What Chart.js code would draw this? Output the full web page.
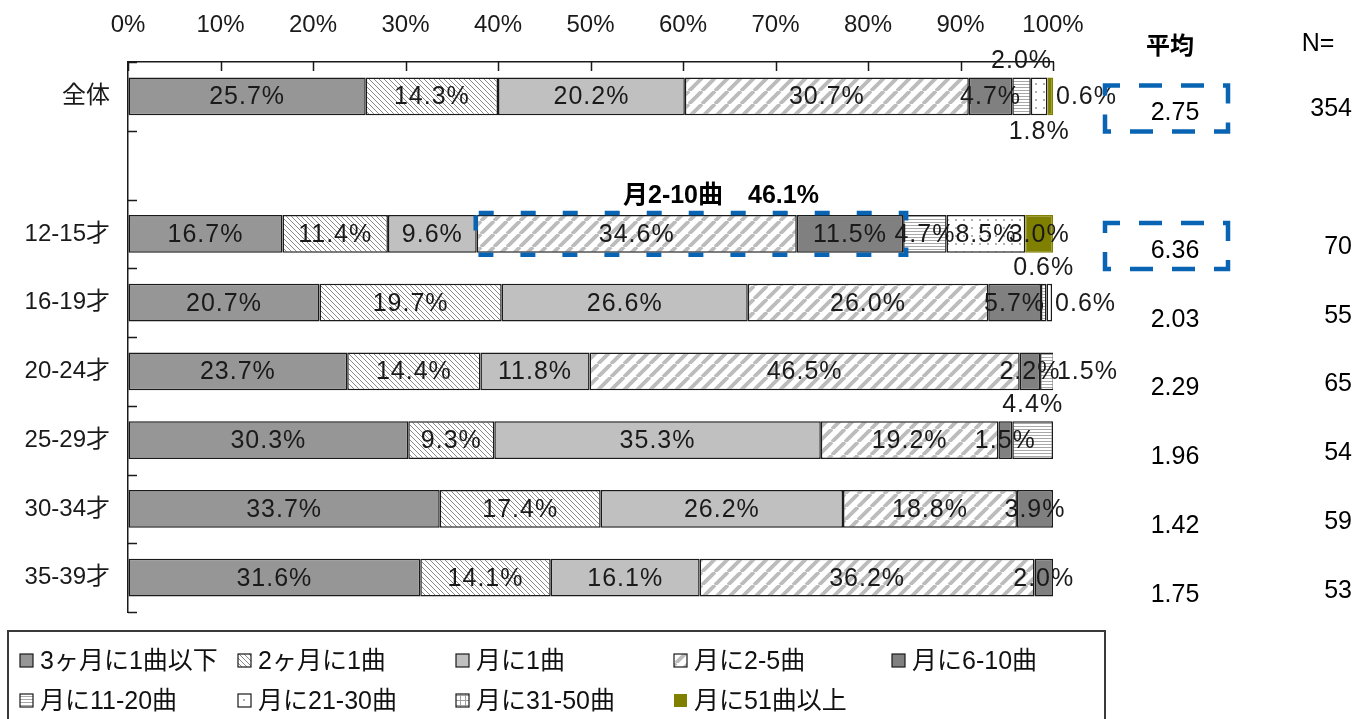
<!DOCTYPE html>
<html>
<head>
<meta charset="utf-8">
<script src="https://cdn.jsdelivr.net/npm/chart.js@4/dist/chart.umd.min.js"></script>
<style>
  html, body { margin: 0; padding: 0; background: #fff; }
  #wrap { width: 1359px; height: 719px; position: relative; }
</style>
</head>
<body>
<div id="wrap"><canvas id="myChart"></canvas></div>
<script>
// rows (the empty one is the gap under 全体)
const categories = ["全体", "", "12-15才", "16-19才", "20-24才", "25-29才", "30-34才", "35-39才"];
const seriesNames = ["3ヶ月に1曲以下", "2ヶ月に1曲", "月に1曲", "月に2-5曲", "月に6-10曲",
                     "月に11-20曲", "月に21-30曲", "月に31-50曲", "月に51曲以上"];

// % per series, same order as categories
const under3m   = [25.7, null, 16.7, 20.7, 23.7, 30.3, 33.7, 31.6];
const every2m   = [14.3, null, 11.4, 19.7, 14.4,  9.3, 17.4, 14.1];
const monthly1  = [20.2, null,  9.6, 26.6, 11.8, 35.3, 26.2, 16.1];
const monthly2to5   = [30.7, null, 34.6, 26.0, 46.5, 19.2, 18.8, 36.2];
const monthly6to10  = [ 4.7, null, 11.5,  5.7,  2.2,  1.5,  3.9,  2.0];
const monthly11to20 = [ 2.0, null,  4.7,  0.6,  1.5,  4.4,  0,    0];
const monthly21to30 = [ 1.8, null,  8.5,  0.6,  0,    0,    0,    0];
const monthly31to50 = [ 0,   null,  0,    0,    0,    0,    0,    0];
const monthly51up   = [ 0.6, null,  3.0,  0,    0,    0,    0,    0];

const averages = ["2.75", "", "6.36", "2.03", "2.29", "1.96", "1.42", "1.75"];
const counts   = ["354", "", "70", "55", "65", "54", "59", "53"];
const xTickLabels = ["0%", "10%", "20%", "30%", "40%", "50%", "60%", "70%", "80%", "90%", "100%"];

const highlightText = "月2-10曲　46.1%";
const highlightRow = 2;          // 12-15才
const highlightSeries = [3, 4];  // 月に2-5曲 .. 月に6-10曲
const boxedAverageRows = [0, 2];

// where a small segment's label is moved to (series,row)
const labelPlacement = { "5,0": "above", "6,0": "below", "8,0": "right",
                         "5,3": "above", "6,3": "right", "5,4": "right", "5,5": "above" };

const FONT = '"Liberation Sans", "Noto Sans CJK JP", sans-serif';

function makePattern(kind) {
  const c = document.createElement("canvas");
  const g = c.getContext("2d");
  let s = 8;
  if (kind === "bdiag") s = 5;
  if (kind === "wide") s = 13;
  if (kind === "hstripe") s = 3;
  if (kind === "grid") s = 5;
  c.width = s; c.height = s;
  g.fillStyle = "#fff";
  g.fillRect(0, 0, s, s);
  if (kind === "bdiag") {
    g.strokeStyle = "#8a8a8a"; g.lineWidth = 1;
    g.beginPath();
    for (const o of [-s, 0, s]) { g.moveTo(o, 0); g.lineTo(o + s, s); }
    g.stroke();
  } else if (kind === "wide") {
    g.strokeStyle = "#bcbcbc"; g.lineWidth = 3.8;
    g.beginPath();
    for (const o of [-s, 0, s]) { g.moveTo(o, s); g.lineTo(o + s, 0); }
    g.stroke();
  } else if (kind === "hstripe") {
    g.fillStyle = "#a8a8a8";
    g.fillRect(0, 0, s, 1);
  } else if (kind === "dots") {
    g.fillStyle = "#b0b0b0";
    g.fillRect(3, 3, 2, 2);
  } else if (kind === "grid") {
    g.fillStyle = "#a0a0a0";
    g.fillRect(0, 0, s, 1);
    g.fillRect(0, 0, 1, s);
  }
  return c.getContext("2d").createPattern(c, "repeat");
}

const fills = [
  "#969696",
  makePattern("bdiag"),
  "#c0c0c0",
  makePattern("wide"),
  "#808080",
  makePattern("hstripe"),
  makePattern("dots"),
  makePattern("grid"),
  "#808000"
];

const seriesValues = [under3m, every2m, monthly1, monthly2to5, monthly6to10,
                      monthly11to20, monthly21to30, monthly31to50, monthly51up];

const datasets = seriesValues.map((vals, i) => ({
  label: seriesNames[i],
  data: vals.map(v => (v ? v : null)),
  backgroundColor: fills[i],
  borderColor: i === 8 ? "#808000" : "#1a1a1a",
  borderWidth: 1.5,
  borderSkipped: false,
  barPercentage: 0.55,
  categoryPercentage: 1
}));

// inward tick marks on both axes
const innerTicks = {
  id: "innerTicks",
  afterDraw(chart) {
    const ctx = chart.ctx;
    const x = chart.scales.x, y = chart.scales.y;
    const area = chart.chartArea;
    ctx.save();
    ctx.strokeStyle = "#1a1a1a";
    ctx.lineWidth = 1.5;
    ctx.beginPath();
    for (let v = 0; v <= 100; v += 10) {
      const px = Math.round(x.getPixelForValue(v)) + 0.5;
      ctx.moveTo(px, area.top);
      ctx.lineTo(px, area.top + 9);
    }
    const step = (y.getPixelForValue(1) - y.getPixelForValue(0));
    for (let i = 0; i <= categories.length; i++) {
      const py = Math.round(y.getPixelForValue(0) - step / 2 + i * step) + 0.5;
      ctx.moveTo(area.left, py);
      ctx.lineTo(area.left + 9, py);
    }
    ctx.stroke();
    ctx.restore();
  }
};

// value labels inside / beside segments
const segmentLabels = {
  id: "segmentLabels",
  afterDatasetsDraw(chart) {
    const ctx = chart.ctx;
    ctx.save();
    ctx.font = "25px " + FONT;
    ctx.letterSpacing = "1px";
    ctx.fillStyle = "#1a1a1a";
    ctx.textBaseline = "middle";
    chart.data.datasets.forEach((ds, si) => {
      const meta = chart.getDatasetMeta(si);
      ds.data.forEach((v, ri) => {
        if (v === null) return;
        const bar = meta.data[ri];
        const txt = v.toFixed(1) + "%";
        const place = labelPlacement[si + "," + ri];
        const half = bar.height / 2;
        let tx = (bar.x + bar.base) / 2, ty = bar.y;
        ctx.textAlign = "center";
        if (place === "above") ty = bar.y - half - 17;
        if (place === "below") ty = bar.y + half + 16;
        if (place === "right") { tx = bar.x + 3; ctx.textAlign = "left"; }
        ctx.fillText(txt, tx, ty + 1);
      });
    });
    ctx.restore();
  }
};

// blue dashed call-outs, side columns and legend
const extras = {
  id: "extras",
  afterDraw(chart) {
    const ctx = chart.ctx;
    const y = chart.scales.y;
    ctx.save();

    // highlight box on 12-15才
    const first = chart.getDatasetMeta(highlightSeries[0]).data[highlightRow];
    const last = chart.getDatasetMeta(highlightSeries[1]).data[highlightRow];
    const bx0 = first.base - 1, bx1 = last.x + 3;
    const by0 = first.y - first.height / 2 - 2, by1 = first.y + first.height / 2 + 2;
    ctx.strokeStyle = "#0a64b4";
    ctx.lineWidth = 4.5;
    ctx.setLineDash([15, 27]);
    ctx.lineDashOffset = -3;
    ctx.strokeRect(bx0, by0, bx1 - bx0, by1 - by0);
    ctx.setLineDash([]);
    ctx.fillStyle = "#000";
    ctx.font = 'bold 25px "Liberation Sans", "Noto Sans CJK JP", sans-serif';
    ctx.textAlign = "center";
    ctx.textBaseline = "middle";
    ctx.fillText(highlightText, (bx0 + bx1) / 2 + 30, by0 - 17);

    // 平均 / N= columns
    ctx.font = 'bold 24px "Noto Sans CJK JP", sans-serif';
    ctx.fillText("平均", 1170, 45);
    ctx.font = "25px " + FONT;
    ctx.fillText("N=", 1318, 44);
    categories.forEach((c, i) => {
      const cy = y.getPixelForValue(i);
      if (averages[i]) {
        ctx.textAlign = "center";
        ctx.fillText(averages[i], 1175, cy + 17);
      }
      if (counts[i]) {
        ctx.textAlign = "right";
        ctx.fillText(counts[i], 1352, cy + 13);
      }
    });
    ctx.strokeStyle = "#0a64b4";
    ctx.lineWidth = 4.5;
    ctx.setLineDash([23, 19]);
    boxedAverageRows.forEach(i => {
      const cy = y.getPixelForValue(i);
      ctx.lineDashOffset = 8;
      ctx.strokeRect(1105, cy - 11, 123, 46);
    });
    ctx.setLineDash([]);

    // legend
    ctx.strokeStyle = "#3a3a3a";
    ctx.lineWidth = 2;
    ctx.strokeRect(8, 631, 1097, 120);
    ctx.font = "25px " + FONT;
    ctx.textAlign = "left";
    ctx.textBaseline = "middle";
    chart.data.datasets.forEach((ds, i) => {
      const col = i % 5, row = Math.floor(i / 5);
      const lx = 20 + col * 218, ly = 661 + row * 40;
      ctx.fillStyle = ds.backgroundColor;
      ctx.fillRect(lx, ly - 7, 13, 13);
      if (i !== 8) {
        ctx.strokeStyle = "#1a1a1a";
        ctx.lineWidth = 1.2;
        ctx.strokeRect(lx, ly - 7, 13, 13);
      }
      ctx.fillStyle = "#111";
      ctx.fillText(ds.label, lx + 20, ly + 1);
    });
    ctx.restore();
  }
};

new Chart(document.getElementById("myChart"), {
  type: "bar",
  data: { labels: categories, datasets },
  options: {
    indexAxis: "y",
    responsive: true,
    maintainAspectRatio: false,
    animation: false,
    layout: { padding: { left: 0, top: 0, right: 306, bottom: 107 } },
    plugins: { legend: { display: false }, tooltip: { enabled: false } },
    scales: {
      x: {
        position: "top",
        stacked: true,
        min: 0,
        max: 100,
        afterFit(scale) { scale.height = 62; },
        ticks: {
          stepSize: 10,
          padding: 22,
          color: "#1a1a1a",
          font: { size: 24, family: FONT },
          callback: (v, i) => xTickLabels[i]
        },
        grid: { display: true, drawOnChartArea: false, drawTicks: false },
        border: { display: true, color: "#1a1a1a", width: 1.5 }
      },
      y: {
        stacked: true,
        afterFit(scale) { scale.width = 128; },
        ticks: {
          padding: 18,
          color: "#1a1a1a",
          font: { size: 24, family: FONT }
        },
        grid: { display: true, drawOnChartArea: false, drawTicks: false },
        border: { display: true, color: "#1a1a1a", width: 1.5 }
      }
    }
  },
  plugins: [innerTicks, segmentLabels, extras]
});
</script>
</body>
</html>
